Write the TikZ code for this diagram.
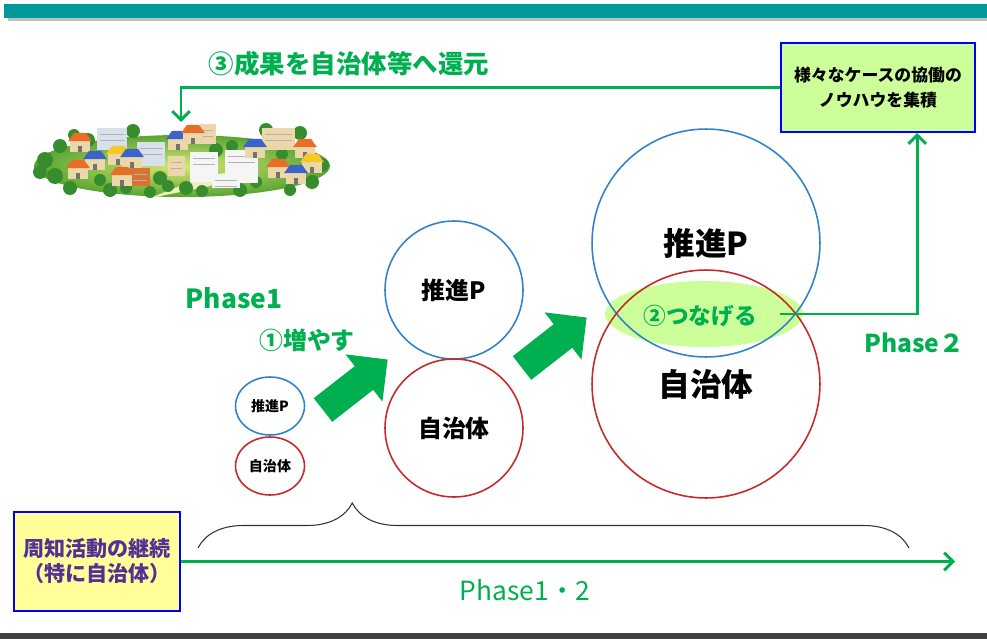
\documentclass[tikz,border=0pt]{standalone}
\usepackage{fontspec}
\setmainfont{Noto Sans CJK JP}
\usetikzlibrary{arrows.meta,calc,decorations.pathreplacing,shapes.geometric}

\definecolor{barteal}{RGB}{0,153,153}
\definecolor{flowgreen}{RGB}{0,176,80}
\definecolor{ringblue}{RGB}{50,130,200}
\definecolor{ringred}{RGB}{200,40,40}
\definecolor{paleleaf}{RGB}{204,255,153}
\definecolor{paleyellow}{RGB}{255,255,153}
\definecolor{boxblue}{RGB}{0,0,255}
\definecolor{inkpurple}{RGB}{80,50,150}
\definecolor{treegreen}{RGB}{55,140,45}
\definecolor{roofblue}{RGB}{60,100,200}
\definecolor{rooforange}{RGB}{230,110,40}
\definecolor{roofyellow}{RGB}{245,200,40}
\definecolor{wallbeige}{RGB}{235,215,170}
\definecolor{wallgrey}{RGB}{215,225,235}
\definecolor{groundlight}{RGB}{215,232,120}
\definecolor{grounddark}{RGB}{90,165,50}
\definecolor{roadpale}{RGB}{238,240,190}

\newcommand{\fsize}[2]{\fontsize{#1}{#2}\selectfont}

% little houses and block arrows
\tikzset{
  pics/house/.style 2 args={code={
    \fill[#1] (-8,0) rectangle (8,-10);
    \fill[#2] (-10,-9) -- (10,-9) -- (5,-16) -- (-5,-16) -- cycle;
    \fill[black!55] (-2,0) rectangle (2,-5);
  }},
  pics/push/.style={code={
    \fill[flowgreen] (0,-15) -- (52,-15) -- (52,-30) -- (82,0) -- (52,30) -- (52,15) -- (0,15) -- cycle;
  }}
}

\begin{document}
\begin{tikzpicture}[x=0.02cm, y=-0.02cm]
   \tikzstyle{flow}=[draw=flowgreen, line width=1.7pt, -{Straight Barb[length=5pt,width=10pt]}]
   \tikzstyle{greentext}=[text=flowgreen, inner sep=0pt]
   \tikzstyle{ring}=[draw, circle, line width=0.9pt, inner sep=0pt]
   \tikzstyle{note}=[draw=boxblue, line width=1.1pt, align=center, inner sep=0pt]

\useasboundingbox (0,0) rectangle (987,639);

% header and footer bars
\fill[gray!50] (8,7) rectangle (987,21);
\fill[barteal] (4,4) rectangle (987,18);
\fill[black!75] (0,633) rectangle (987,639);

% the town
\shade[inner color=groundlight, outer color=grounddark] (182,166) ellipse (148 and 31);
\fill[roadpale] (150,198) -- (195,180) -- (232,171) -- (210,186) -- cycle;
\foreach \x/\y/\r in {45/160/8, 55/176/8, 70/188/7, 40/172/7, 88/140/7, 133/131/7, 110/190/7, 126/188/6,
                      160/178/7, 168/186/6, 186/188/7, 240/190/7, 256/182/6, 266/130/7, 300/133/7, 322/165/7,
                      312/182/7, 290/190/6, 216/150/7, 232/146/6, 100/180/6, 60/146/7, 74/135/6, 202/191/6,
                      150/192/6, 282/154/6}
  \fill[treegreen] (\x,\y) circle (\r);
\foreach \x/\y/\w/\h/\c in {97/128/30/22/wallgrey, 137/142/28/24/wallgrey, 200/124/16/20/wallbeige,
                            168/156/17/20/wallbeige, 130/168/20/18/rooforange!70!brown, 190/152/28/30/white!92!gray,
                            225/150/33/33/white!92!gray, 262/128/33/22/wallbeige, 212/174/28/14/white!92!gray}
{
  \fill[\c] (\x,\y) rectangle ++(\w,\h);
  \draw[black!30, line width=0.3pt] (\x+3,\y+6) -- ++(\w-6,0) (\x+3,\y+12) -- ++(\w-6,0);
}
\foreach \x/\y/\r in {80/152/rooforange, 95/170/roofblue, 78/179/rooforange, 118/165/roofyellow,
                      132/168/roofblue, 122/186/rooforange, 178/150/roofblue, 193/144/rooforange,
                      255/158/roofblue, 305/158/rooforange, 312/173/roofyellow, 278/178/rooforange,
                      296/184/roofblue}
  \pic[scale=1.2] at (\x,\y) {house={wallbeige}{\r}};
\coordinate (town-in) at (181,122);

% notes
\node[note, fill=paleleaf, minimum width=3.88cm, minimum height=1.78cm, font=\bfseries\fsize{9.6pt}{14.2pt}] (knowhow) at (878,87.5)
   {様々なケースの協働の\\ノウハウを集積};
\node[note, fill=paleyellow, minimum width=3.32cm, minimum height=1.98cm, text=inkpurple, font=\bfseries\fsize{12pt}{14.2pt}] (pr) at (97,561.5)
   {周知活動の継続\\（特に自治体）};
\coordinate (goal) at (955,561.5);

% labels
\node[greentext, font=\bfseries\fsize{14.5pt}{17pt}] (lbl-return) at (349,64) {③成果を自治体等へ還元};
\node[greentext, font=\bfseries\fsize{15pt}{17pt}] (lbl-phase1) at (234,298) {Phase1};
\node[greentext, font=\bfseries\fsize{13.6pt}{16pt}] (lbl-grow) at (307,340) {①増やす};
\node[greentext, font=\bfseries\fsize{14pt}{16pt}] (lbl-phase2) at (914,343) {Phase２};
\node[greentext, font=\fsize{15pt}{17pt}] (lbl-phase12) at (525,590) {Phase1・2};

% stage 1
\node[ring, ellipse, draw=ringblue, minimum width=1.38cm, minimum height=1.16cm, font=\bfseries\fsize{8pt}{8pt}] (p-small) at (270,406) {推進P};
\node[ring, ellipse, draw=ringred, minimum width=1.38cm, minimum height=1.16cm, font=\bfseries\fsize{8pt}{8pt}] (m-small) at (270,466) {自治体};
\pic[rotate=38] at (323,410) {push};

% stage 2
\node[ring, draw=ringblue, minimum size=2.76cm, font=\bfseries\fsize{13.6pt}{14pt}] (p-mid) at (454,290) {推進P};
\node[ring, draw=ringred, minimum size=2.76cm, font=\bfseries\fsize{13.6pt}{14pt}] (m-mid) at (454,428) {自治体};
\pic[rotate=38] at (522,368) {push};

% stage 3
\node[ellipse, fill=paleleaf, minimum width=3.96cm, minimum height=1.32cm, inner sep=0pt] (link) at (704,314) {};
\node[ring, draw=ringblue, minimum size=4.56cm, font=\bfseries\fsize{18pt}{18pt}] (p-big) at (706,243) {推進P};
\node[ring, draw=ringred, minimum size=4.56cm, font=\bfseries\fsize{18pt}{18pt}] (m-big) at (706,384) {自治体};
\node[greentext, font=\bfseries\fsize{12.9pt}{14pt}] (lbl-link) at (700,316) {②つなげる};

% connectors
\draw[flow] ($(link.center)!0.77!(link.east)$) -| ($(knowhow.south)!0.4!(knowhow.south east)$);
\draw[flow] (knowhow.west) -| (town-in);
\draw[flow] (pr.east) -- (goal);
\draw[black!80, line width=0.6pt, decorate, decoration={brace, amplitude=0.9cm, aspect=0.217}] (198,548) -- (909,548);

\end{tikzpicture}
\end{document}
